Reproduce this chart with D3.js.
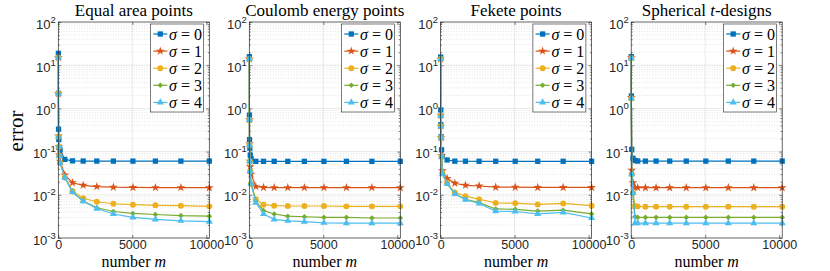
<!DOCTYPE html>
<html>
<head>
<meta charset="utf-8">
<script src="https://cdn.jsdelivr.net/npm/d3@7"></script>
<style>
  body { margin: 0; background: #fff; }
  svg { display: block; }
</style>
</head>
<body>
<div class="chart"></div>
<script>
// number of points m for each point set
const mGrid = [4, 9, 16, 36, 64, 121, 441, 961, 1681, 2601, 3721, 5041, 6561, 8281, 10201];
const mDesign = [4, 9, 36, 121, 256, 441, 961, 1681, 2601, 3721, 5041, 6561, 8281, 10201];

// errors, one row per sigma = 0..4
const errEqualArea = [
  [18.8, 2.24, 0.33, 0.19, 0.125, 0.109, 0.066, 0.061, 0.0605, 0.0603, 0.0602, 0.0602, 0.0602, 0.0602, 0.0602],
  [15, 2.2, 0.23, 0.13, 0.085, 0.06, 0.029, 0.019, 0.0166, 0.0155, 0.015, 0.0148, 0.0147, 0.0147, 0.0146],
  [15, 2.2, 0.22, 0.13, 0.08, 0.055, 0.025, 0.0123, 0.0083, 0.0069, 0.0062, 0.0059, 0.0057, 0.0056, 0.0054],
  [15, 2.2, 0.22, 0.13, 0.08, 0.055, 0.025, 0.0116, 0.0072, 0.005, 0.0041, 0.0037, 0.0035, 0.0033, 0.0032],
  [15, 2.2, 0.22, 0.13, 0.08, 0.055, 0.025, 0.0116, 0.0071, 0.0048, 0.0036, 0.003, 0.0027, 0.0025, 0.0024],
];
const errCoulomb = [
  [15.7, 0.7, 0.19, 0.12, 0.083, 0.068, 0.0595, 0.0595, 0.0595, 0.0595, 0.0595, 0.0595, 0.0595, 0.0595, 0.0595],
  [14, 0.55, 0.15, 0.06, 0.045, 0.03, 0.0155, 0.0148, 0.0147, 0.0147, 0.0147, 0.0147, 0.0147, 0.0147, 0.0146],
  [14, 0.54, 0.14, 0.06, 0.035, 0.018, 0.0079, 0.0059, 0.0056, 0.0055, 0.0055, 0.0055, 0.0054, 0.0054, 0.0054],
  [14, 0.54, 0.14, 0.06, 0.035, 0.018, 0.0071, 0.0043, 0.0036, 0.0032, 0.0031, 0.003, 0.003, 0.0029, 0.0029],
  [14, 0.54, 0.14, 0.06, 0.035, 0.018, 0.0066, 0.0036, 0.0027, 0.0025, 0.0024, 0.00225, 0.0022, 0.0022, 0.0022],
];
const errFekete = [
  [15.4, 0.92, 0.42, 0.22, 0.11, 0.077, 0.064, 0.06, 0.0598, 0.0597, 0.0597, 0.0597, 0.0597, 0.0597, 0.0597],
  [14, 0.7, 0.39, 0.21, 0.08, 0.036, 0.024, 0.0185, 0.0166, 0.016, 0.015, 0.015, 0.0148, 0.0148, 0.0148],
  [14, 0.67, 0.39, 0.21, 0.076, 0.032, 0.019, 0.0113, 0.0093, 0.0079, 0.0065, 0.0064, 0.006, 0.0063, 0.0056],
  [14, 0.67, 0.39, 0.21, 0.076, 0.031, 0.018, 0.0106, 0.0079, 0.0066, 0.0047, 0.0046, 0.0042, 0.0044, 0.0036],
  [14, 0.67, 0.38, 0.21, 0.076, 0.03, 0.018, 0.0105, 0.0077, 0.0063, 0.0042, 0.0041, 0.0036, 0.0039, 0.0029],
];
const errDesign = [
  [15.8, 1.94, 0.113, 0.07, 0.062, 0.0605, 0.0602, 0.0602, 0.0602, 0.0602, 0.0602, 0.0602, 0.0602, 0.0602],
  [15, 1.8, 0.037, 0.019, 0.0148, 0.0147, 0.0146, 0.0146, 0.0146, 0.0146, 0.0146, 0.0146, 0.0146, 0.0146],
  [14.5, 1.7, 0.03, 0.011, 0.0055, 0.0054, 0.0053, 0.0053, 0.0053, 0.0053, 0.0053, 0.0053, 0.0053, 0.0053],
  [14.5, 1.7, 0.03, 0.011, 0.0031, 0.003, 0.003, 0.003, 0.003, 0.003, 0.003, 0.003, 0.003, 0.003],
  [14.5, 1.7, 0.03, 0.011, 0.0022, 0.0022, 0.0022, 0.0022, 0.0022, 0.0022, 0.0022, 0.0022, 0.0022, 0.0022],
];

const sigmaLabels = ['0', '1', '2', '3', '4'];
const xTicks = [0, 5000, 10000];
const yTickExps = [-3, -2, -1, 0, 1, 2];

const panels = [
  {title: ['Equal area points'], m: mGrid, err: errEqualArea},
  {title: ['Coulomb energy points'], m: mGrid, err: errCoulomb},
  {title: ['Fekete points'], m: mGrid, err: errFekete},
  {title: ['Spherical ', 't', '-designs'], m: mDesign, err: errDesign},
];

const colors = ['#0072BD', '#D95319', '#EDB120', '#77AC30', '#4DBEEE'];
const markers = [d3.symbolSquare, d3.symbolStar, d3.symbolCircle, d3.symbolDiamond2, d3.symbolTriangle];
const markerSize = [28, 24, 28, 20, 22];

const width = 830;
const height = 271;
const panelLeft = [58.3, 249.3, 440.6, 631.2];
const plotW = 151;
const plotTop = 22;
const plotH = 216;
const axisColor = '#262626';
const serif = "'Liberation Serif', 'Times New Roman', serif";
const sans = "'Liberation Sans', Arial, sans-serif";

const svg = d3.select('.chart')
  .append('svg')
  .attr('width', width)
  .attr('height', height);

const xScale = d3.scaleLinear().domain([0, 10201]).range([0, plotW]);
const yScale = d3.scaleLog().domain([1e-3, 1e2]).range([plotH, 0]);

const minorVals = [];
for (let e = -3; e < 2; e++) {
  for (let k = 2; k <= 9; k++) minorVals.push(k * Math.pow(10, e));
}

const line = d3.line()
  .x(d => xScale(d[0]))
  .y(d => yScale(d[1]));

panels.forEach((p, i) => {
  const g = svg.append('g')
    .attr('transform', `translate(${panelLeft[i]}, ${plotTop})`);

  // minor grid (dotted) and major grid
  g.selectAll('.minor-grid')
    .data(minorVals)
    .enter()
    .append('line')
    .attr('x1', 0).attr('x2', plotW)
    .attr('y1', d => yScale(d)).attr('y2', d => yScale(d))
    .style('stroke', '#d2d2d2')
    .style('stroke-width', 0.6)
    .style('stroke-dasharray', '1,1.6');

  g.selectAll('.major-grid-y')
    .data(yTickExps.slice(1, -1))
    .enter()
    .append('line')
    .attr('x1', 0).attr('x2', plotW)
    .attr('y1', d => yScale(Math.pow(10, d))).attr('y2', d => yScale(Math.pow(10, d)))
    .style('stroke', '#e0e0e0')
    .style('stroke-width', 0.7);

  g.selectAll('.major-grid-x')
    .data([5000])
    .enter()
    .append('line')
    .attr('x1', d => xScale(d)).attr('x2', d => xScale(d))
    .attr('y1', 0).attr('y2', plotH)
    .style('stroke', '#e0e0e0')
    .style('stroke-width', 0.7);

  // axes with inward ticks
  const tickStyle = sel => {
    sel.select('.domain').remove();
    sel.selectAll('line').style('stroke', axisColor).style('stroke-width', 0.6);
  };

  g.append('g')
    .attr('transform', `translate(0, ${plotH})`)
    .call(d3.axisBottom(xScale).tickValues(xTicks).tickFormat(d3.format('d'))
      .tickSizeInner(-3).tickSizeOuter(0).tickPadding(2.5))
    .call(tickStyle)
    .call(a => a.selectAll('text')
      .style('font-family', sans).style('font-size', '12.5px').style('fill', axisColor));

  g.append('g')
    .call(d3.axisTop(xScale).tickValues(xTicks).tickSizeInner(-3).tickSizeOuter(0).tickFormat(''))
    .call(tickStyle);

  const yAxisLeft = g.append('g')
    .call(d3.axisLeft(yScale).tickValues(yTickExps.map(e => Math.pow(10, e)))
      .tickSizeInner(-3).tickSizeOuter(0).tickPadding(2.5))
    .call(tickStyle);
  yAxisLeft.selectAll('text').each(function(d) {
    const t = d3.select(this).text('')
      .attr('dy', 6)
      .style('font-family', sans).style('font-size', '13px').style('fill', axisColor);
    t.append('tspan').text('10');
    t.append('tspan').attr('dy', -6).style('font-size', '9.5px').text(Math.round(Math.log10(d)));
  });

  g.append('g')
    .call(d3.axisLeft(yScale).tickValues(minorVals).tickSizeInner(-1.5).tickSizeOuter(0).tickFormat(''))
    .call(tickStyle);
  g.append('g')
    .attr('transform', `translate(${plotW}, 0)`)
    .call(d3.axisRight(yScale).tickValues(yTickExps.map(e => Math.pow(10, e)))
      .tickSizeInner(-3).tickSizeOuter(0).tickFormat(''))
    .call(tickStyle);
  g.append('g')
    .attr('transform', `translate(${plotW}, 0)`)
    .call(d3.axisRight(yScale).tickValues(minorVals).tickSizeInner(-1.5).tickSizeOuter(0).tickFormat(''))
    .call(tickStyle);

  // series
  p.err.forEach((vals, s) => {
    const pts = p.m.map((m, k) => [m, vals[k]]);
    g.append('path')
      .attr('d', line(pts))
      .style('fill', 'none')
      .style('stroke', colors[s])
      .style('stroke-width', 1.2);
    g.selectAll(`.mk${s}`)
      .data(pts)
      .enter()
      .append('path')
      .attr('class', `mk${s}`)
      .attr('transform', d => `translate(${xScale(d[0])}, ${yScale(d[1])})`)
      .attr('d', d3.symbol().type(markers[s]).size(markerSize[s]))
      .style('fill', colors[s]);
  });

  // box
  g.append('rect')
    .attr('width', plotW).attr('height', plotH)
    .style('fill', 'none')
    .style('stroke', axisColor)
    .style('stroke-width', 0.7);

  // legend
  const lg = g.append('g').attr('transform', `translate(${plotW - 58.7}, 2)`);
  lg.append('rect')
    .attr('width', 53).attr('height', 88)
    .style('fill', '#fff')
    .style('stroke', axisColor)
    .style('stroke-width', 0.6);
  sigmaLabels.forEach((lab, s) => {
    const ry = 10 + s * 17.1;
    lg.append('line')
      .attr('x1', 2.7).attr('x2', 16.7).attr('y1', ry).attr('y2', ry)
      .style('stroke', colors[s]).style('stroke-width', 1.2);
    lg.append('path')
      .attr('transform', `translate(9.7, ${ry})`)
      .attr('d', d3.symbol().type(markers[s]).size(markerSize[s]))
      .style('fill', colors[s]);
    const t = lg.append('text')
      .attr('x', 18.5).attr('y', ry + 5.5)
      .style('font-family', serif).style('font-size', '16px');
    t.append('tspan').style('font-style', 'italic').text('σ');
    t.append('tspan').text(' = ' + lab);
  });

  // title
  const title = g.append('text')
    .attr('x', plotW / 2).attr('y', -6.5)
    .attr('text-anchor', 'middle')
    .style('font-family', serif).style('font-size', '17px');
  p.title.forEach(part => {
    title.append('tspan').style('font-style', part === 't' ? 'italic' : 'normal').text(part);
  });

  // x label
  const xl = g.append('text')
    .attr('x', plotW / 2).attr('y', plotH + 29.3)
    .attr('text-anchor', 'middle')
    .style('font-family', serif).style('font-size', '16px');
  xl.append('tspan').text('number ');
  xl.append('tspan').style('font-style', 'italic').text('m');
});

svg.append('text')
  .attr('transform', 'translate(23, 131) rotate(-90)')
  .attr('text-anchor', 'middle')
  .style('font-family', serif)
  .style('font-size', '21px')
  .text('error');
</script>
</body>
</html>
